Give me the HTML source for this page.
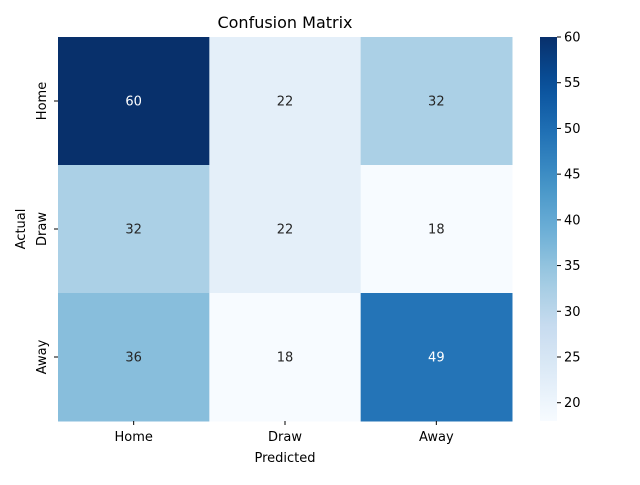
<!DOCTYPE html>
<html><head><meta charset="utf-8"><style>
body{margin:0;background:#fff;}
svg text{font-family:"DejaVu Sans","Liberation Sans",sans-serif;}
</style></head><body>
<svg id="chart" width="640" height="480" xmlns="http://www.w3.org/2000/svg">
<defs><linearGradient id="cbgrad" x1="0" y1="1" x2="0" y2="0"></linearGradient></defs>
<rect width="640" height="480" fill="#fff"/>
<text x="285" y="28" font-size="16" text-anchor="middle">Confusion Matrix</text>
<g id="cells"></g>
<g id="axes"></g>
<g id="cbar"></g>
<text x="285" y="462" font-size="13" text-anchor="middle">Predicted</text>
<text x="0" y="0" font-size="13" text-anchor="middle" transform="translate(25,229) rotate(-90)">Actual</text>
</svg>
<script>
const categories = ["Home","Draw","Away"];
const matrixValues = [[60,22,32],[32,22,18],[36,18,49]];
const colorbarTicks = [20,25,30,35,40,45,50,55,60];
const vmin = 18, vmax = 60;

const NS="http://www.w3.org/2000/svg";
const X0=58,X1=512,Y0=37,Y1=421;
const cw=(X1-X0)/categories.length, ch=(Y1-Y0)/categories.length;
const stops=["#f7fbff","#deebf7","#c6dbef","#9ecae1","#6baed6","#4292c6","#2171b5","#08519c","#08306b"];
function hex(h){return [1,3,5].map(i=>parseInt(h.substr(i,2),16));}
function blues(t){t=Math.max(0,Math.min(1,t));const p=t*8,i=Math.min(7,Math.floor(p)),f=p-i;
 const a=hex(stops[i]),b=hex(stops[i+1]);return "rgb("+a.map((v,k)=>Math.round(v+(b[k]-v)*f)).join(",")+")";}
function norm(v){return (v-vmin)/(vmax-vmin);}
function mk(tag,attrs,parent){const e=document.createElementNS(NS,tag);for(const k in attrs)e.setAttribute(k,attrs[k]);parent.appendChild(e);return e;}
const cells=document.getElementById("cells");
matrixValues.forEach((row,r)=>row.forEach((v,c)=>{
 const rect=mk("rect",{x:X0+c*cw,y:Y0+r*ch,width:cw+0.5,height:ch+0.5,fill:blues(norm(v))},cells);
 
 
 const t=mk("text",{x:X0+(c+0.5)*cw,y:Y0+(r+0.5)*ch+4.5,"font-size":13,"text-anchor":"middle",fill:norm(v)>0.5?"#fff":"#262626"},cells);
 t.textContent=v;
 
 
}));
const axes=document.getElementById("axes");
categories.forEach((c,i)=>{
 const x=X0+(i+0.5)*cw;
 mk("line",{x1:x,x2:x,y1:Y1,y2:Y1+4,stroke:"#000"},axes);
 const t=mk("text",{x:x,y:Y1+20,"font-size":13,"text-anchor":"middle"},axes);t.textContent=c;
 
 
 const y=Y0+(i+0.5)*ch;
 mk("line",{x1:X0-4,x2:X0,y1:y,y2:y,stroke:"#000"},axes);
 const u=mk("text",{x:0,y:0,"font-size":13,"text-anchor":"middle",transform:"translate("+(X0-12)+","+y+") rotate(-90)"},axes);u.textContent=c;
 
 
});
const grad=document.getElementById("cbgrad");
for(let i=0;i<=20;i++){mk("stop",{offset:(i/20),"stop-color":blues(i/20)},grad);}
const cb=document.getElementById("cbar");
const CX=540,CW=17;
const cbr=mk("rect",{x:CX,y:Y0,width:CW,height:Y1-Y0,fill:"url(#cbgrad)"},cb);


colorbarTicks.forEach(v=>{
 const y=Y1-norm(v)*(Y1-Y0);
 mk("line",{x1:CX+CW,x2:CX+CW+4,y1:y,y2:y,stroke:"#000"},cb);
 const t=mk("text",{x:CX+CW+7,y:y+4.5,"font-size":13},cb);t.textContent=v;
 
 
});
</script>
</body></html>
